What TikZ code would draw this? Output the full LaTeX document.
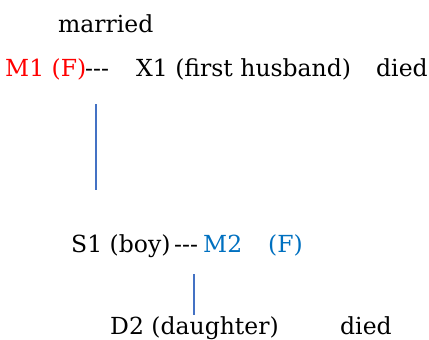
\documentclass[tikz,border=0pt]{standalone}
\usepackage{fontspec}
\setmainfont{DejaVu Serif}
\definecolor{redtxt}{RGB}{255,0,0}
\definecolor{bluetxt}{RGB}{0,112,192}
\definecolor{linecol}{RGB}{68,114,196}
\begin{document}
\begin{tikzpicture}[x=1pt,y=-1pt,
  lbl/.style={anchor=base west,inner sep=0pt,font=\fontsize{23.5}{28}\selectfont},
  conn/.style={draw=linecol,line width=1.2pt}]
\useasboundingbox (0,0) rectangle (429,340);
\node[lbl] (married) at (58,32) {married};
\node[lbl,text=redtxt] (m1) at (5,76) {M1 (F)};
\node[lbl] (dash1) at (85,76) {-{}-{}-};
\node[lbl] (x1) at (136,76) {X1 (first husband)};
\node[lbl] (died1) at (376,76) {died};
\node[lbl] (s1) at (71,252) {S1 (boy)};
\node[lbl] (dash2) at (174,252) {-{}-{}-};
\node[lbl,text=bluetxt] (m2) at (203,252) {M2};
\node[lbl,text=bluetxt] (f2) at (268,252) {(F)};
\node[lbl] (d2) at (110,334.5) {D2 (daughter)};
\node[lbl] (died2) at (340,334.5) {died};
\coordinate (a1) at (96,104);
\coordinate (a2) at (96,190);
\coordinate (b1) at (194,274);
\coordinate (b2) at (194,315);
\draw[conn] (a1) -- (a2);
\draw[conn] (b1) -- (b2);
\end{tikzpicture}
\end{document}
